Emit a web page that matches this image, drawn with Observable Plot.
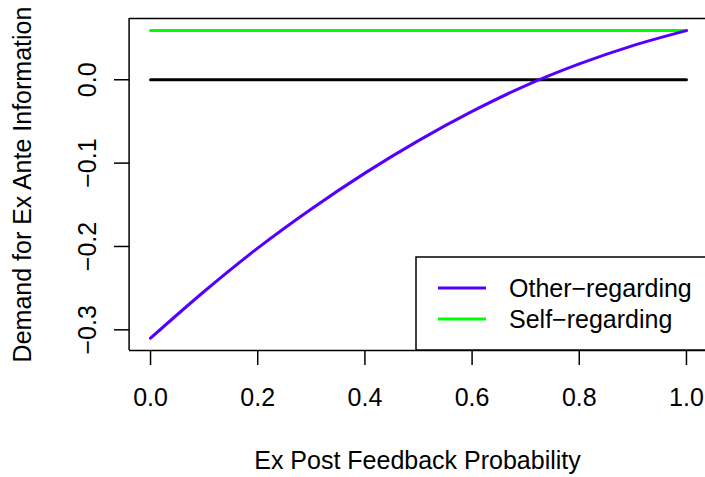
<!DOCTYPE html>
<html>
<head>
<meta charset="utf-8">
<script src="https://cdn.jsdelivr.net/npm/d3@7"></script>
<script src="https://cdn.jsdelivr.net/npm/@observablehq/plot@0.6"></script>
<style>
  html, body { margin: 0; padding: 0; background: white; }
</style>
</head>
<body>
<div id="chart"></div>
<script>
// ---- data ----
const feedbackProb = [0, 0.1, 0.2, 0.3, 0.4, 0.5, 0.6, 0.7, 0.8, 0.9, 1.0];
const otherRegarding = [-0.310, -0.254, -0.202, -0.155, -0.112, -0.073, -0.038, -0.007, 0.019, 0.041, 0.059];
const selfRegarding = [0.059, 0.059, 0.059, 0.059, 0.059, 0.059, 0.059, 0.059, 0.059, 0.059, 0.059];
const zeroLine = [0, 0, 0, 0, 0, 0, 0, 0, 0, 0, 0];
const xTicks = [0, 0.2, 0.4, 0.6, 0.8, 1.0];
const yTicks = [-0.3, -0.2, -0.1, 0.0];
const seriesNames = ["Other\u2212regarding", "Self\u2212regarding"];
const seriesColors = ["#5500FF", "#00FF00"];
const xTitle = "Ex Post Feedback Probability";
const yTitle = "Demand for Ex Ante Information";

const rows = (ys) => feedbackProb.map((x, i) => ({x, y: ys[i]}));
const xDomain = [-0.04, 1.04];
const yDomain = [-0.3248, 0.0735];
const fmt = d3.format(".1f");
const FONT = "Liberation Sans, Arial, Helvetica, sans-serif";
const FS = 25;

const chart = Plot.plot({
  width: 705,
  height: 477,
  marginLeft: 129,
  marginRight: 0,
  marginTop: 18,
  marginBottom: 127,
  style: {fontFamily: FONT, fontSize: FS + "px", color: "black", background: "white"},
  x: {domain: xDomain, range: [128.6, 707.4]},
  y: {domain: yDomain},
  marks: [
    // box
    Plot.ruleX([xDomain[0]], {stroke: "black", strokeWidth: 1.5}),
    Plot.ruleY(yDomain, {stroke: "black", strokeWidth: 1.5}),
    // axes
    Plot.axisX({ticks: xTicks, tickSize: 15, tickPadding: 23, tickFormat: fmt, fontSize: FS, strokeWidth: 1.5, label: null}),
    Plot.axisY({ticks: yTicks, tickSize: 15, tickFormat: () => "", strokeWidth: 1.5, label: null}),
    Plot.text(yTicks, {x: xDomain[0], y: d => d, text: d => fmt(d), rotate: -90, dx: -41, fontSize: FS, textAnchor: "middle", lineAnchor: "middle"}),
    // titles
    Plot.text([xTitle], {frameAnchor: "bottom", dy: 110, fontSize: FS, textAnchor: "middle", lineAnchor: "middle"}),
    Plot.text([yTitle], {frameAnchor: "left", dx: -107, rotate: -90, fontSize: FS, textAnchor: "middle", lineAnchor: "middle"}),
    // lines
    Plot.line(rows(zeroLine), {x: "x", y: "y", stroke: "black", strokeWidth: 3}),
    Plot.line(rows(selfRegarding), {x: "x", y: "y", stroke: seriesColors[1], strokeWidth: 3}),
    Plot.line(rows(otherRegarding), {x: "x", y: "y", stroke: seriesColors[0], strokeWidth: 3, curve: "monotone-x"})
  ]
});

// legend (bottom-right, inside plot region)
const svg = d3.select(chart);
const lg = svg.append("g").attr("font-family", FONT).attr("font-size", FS).attr("text-anchor", "start");
lg.append("rect").attr("x", 416).attr("y", 257).attr("width", 320).attr("height", 93)
  .attr("fill", "white").attr("stroke", "black").attr("stroke-width", 1.5);
seriesNames.forEach((name, i) => {
  const cy = 288 + i * 31;
  lg.append("line").attr("x1", 438).attr("x2", 486).attr("y1", cy).attr("y2", cy)
    .attr("stroke", seriesColors[i]).attr("stroke-width", 3);
  lg.append("text").attr("x", 509).attr("y", cy).attr("dy", "0.35em").attr("fill", "black")
    .attr("text-anchor", "start").text(name);
});

document.getElementById("chart").appendChild(chart);
</script>
</body>
</html>
